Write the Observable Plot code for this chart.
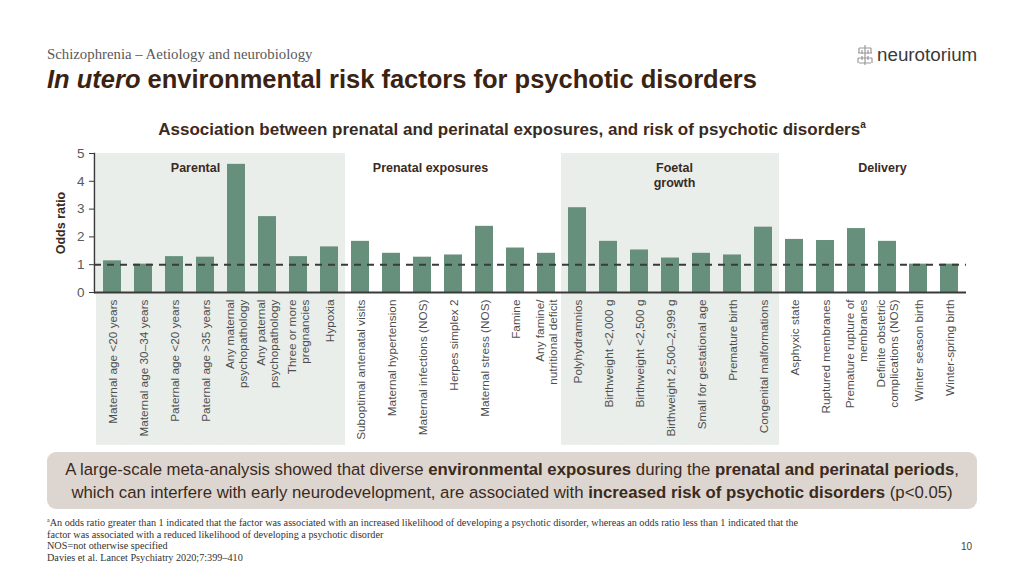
<!DOCTYPE html>
<html><head><meta charset="utf-8">
<script src="https://cdn.jsdelivr.net/npm/d3@7"></script>
<script src="https://cdn.jsdelivr.net/npm/@observablehq/plot@0.6"></script>
<style>
html,body{margin:0;padding:0;background:#fff;}
#page{position:relative;width:1024px;height:576px;overflow:hidden;font-family:"Liberation Sans",Arial,sans-serif;}
.abs{position:absolute;white-space:nowrap;}
#crumb{left:47px;top:46px;font-family:"Liberation Serif","Times New Roman",serif;font-size:14.8px;color:#595959;}
#title{left:47px;top:65px;font-size:25.5px;font-weight:bold;color:#3b2314;}
#logo{left:856px;top:44px;font-size:18.8px;color:#3a3a3a;}
#ctitle{left:0;width:1024px;text-align:center;top:119px;font-size:17px;font-weight:bold;color:#3b2a1e;}
#ctitle sup{font-size:10px;}
#chart{position:absolute;left:0;top:145px;}
#box{position:absolute;left:47px;top:452px;width:930px;height:57px;background:#ddd6d0;border-radius:9px;}
#boxtext{left:0;width:1024px;top:458px;text-align:center;font-family:"Liberation Sans",Arial,sans-serif;font-size:16.75px;line-height:23px;color:#3a2a20;}
#foot{left:47px;top:515px;font-family:"Liberation Serif","Times New Roman",serif;font-size:10.2px;line-height:11.4px;color:#333;}
#pnum{left:961px;top:541px;font-size:10px;color:#444;}
</style></head><body><div id="page">
<div id="crumb" class="abs">Schizophrenia – Aetiology and neurobiology</div>
<div id="title" class="abs"><i>In utero</i> environmental risk factors for psychotic disorders</div>
<div id="logo" class="abs"><svg width="18" height="22" viewBox="0 0 18 22" style="vertical-align:-5px;margin-right:3px"><g stroke="#9a9a9a" stroke-width="1.2" fill="none"><path d="M9 1v20M3 4h12M2 9h14M2 14h14M3 19h12M3 4v5M15 4v5M2 14v5M16 14v5M6 6v4M12 6v4M6 12v4M12 12v4"/></g></svg>neurotorium</div>
<div id="ctitle" class="abs">Association between prenatal and perinatal exposures, and risk of psychotic disorders<sup>a</sup></div>
<div id="chart"></div>
<div id="box"></div>
<div id="boxtext" class="abs">A large-scale meta-analysis showed that diverse <b>environmental exposures</b> during the <b>prenatal and perinatal periods</b>,<br>which can interfere with early neurodevelopment, are associated with <b>increased risk of psychotic disorders</b> (p&lt;0.05)</div>
<div id="foot" class="abs"><sup style="font-size:6px">a</sup>An odds ratio greater than 1 indicated that the factor was associated with an increased likelihood of developing a psychotic disorder, whereas an odds ratio less than 1 indicated that the<br>factor was associated with a reduced likelihood of developing a psychotic disorder<br>NOS=not otherwise specified<br>Davies et al. Lancet Psychiatry 2020;7:399–410</div>
<div id="pnum" class="abs">10</div>
</div>
<script>
const categories = [
  "Maternal age <20 years", "Maternal age 30–34 years", "Paternal age <20 years", "Paternal age >35 years",
  "Any maternal\npsychopathology", "Any paternal\npsychopathology", "Three or more\npregnancies", "Hypoxia",
  "Suboptimal antenatal visits", "Maternal hypertension", "Maternal infections (NOS)", "Herpes simplex 2",
  "Maternal stress (NOS)", "Famine", "Any famine/\nnutritional deficit",
  "Polyhydramnios", "Birthweight <2,000 g", "Birthweight <2,500 g", "Birthweight 2,500–2,999 g",
  "Small for gestational age", "Premature birth", "Congenital malformations",
  "Asphyxic state", "Ruptured membranes", "Premature rupture of\nmembranes",
  "Definite obstetric\ncomplications (NOS)", "Winter season birth", "Winter-spring birth"
];
const groupOf = [
  "Parental","Parental","Parental","Parental","Parental","Parental","Parental","Parental",
  "Prenatal exposures","Prenatal exposures","Prenatal exposures","Prenatal exposures","Prenatal exposures","Prenatal exposures","Prenatal exposures",
  "Foetal growth","Foetal growth","Foetal growth","Foetal growth","Foetal growth","Foetal growth","Foetal growth",
  "Delivery","Delivery","Delivery","Delivery","Delivery","Delivery"
];
const oddsRatios = [1.14, 1.02, 1.29, 1.27, 4.61, 2.73, 1.29, 1.64,
  1.84, 1.41, 1.27, 1.35, 2.38, 1.60, 1.41,
  3.05, 1.84, 1.53, 1.24, 1.41, 1.35, 2.35,
  1.91, 1.87, 2.30, 1.84, 1.02, 1.02];
const yTicks = [0, 1, 2, 3, 4, 5];
const groupLabels = ["Parental", "Prenatal exposures", "Foetal\ngrowth", "Delivery"];
const groupLabelAnchor = ["Paternal age >35 years", "Maternal infections (NOS)", "Birthweight 2,500–2,999 g", "Definite obstetric\ncomplications (NOS)"];
const shadedGroups = ["Parental", "Foetal growth"];
const referenceLine = [1];

const rows = categories.map((c, i) => ({category: c, group: groupOf[i], or: oddsRatios[i]}));
const shaded = rows.filter(d => shadedGroups.includes(d.group));
const labelRows = groupLabels.map((g, i) => ({label: g, at: groupLabelAnchor[i]}));
const labelDx = [-10, 8, 4, -5];

const W = 1024, H = 305, ML = 94, MR = 58;
const pad = 0.43;
const step = (W - ML - MR) / categories.length;
const fullInset = -(step * pad) / 2 - 0.3;

const chart = Plot.plot({
  width: W, height: H,
  marginLeft: ML, marginRight: MR, marginTop: 8, marginBottom: 158,
  style: {fontFamily: '"Liberation Sans", Arial, sans-serif', overflow: "visible", background: "transparent"},
  x: {domain: categories, paddingInner: pad, paddingOuter: pad / 2, label: null},
  y: {domain: [0, 5], label: null},
  marks: [
    Plot.barY(shaded, {x: "category", y1: -5.5, y2: 5, fill: "#e9eeeb", insetLeft: fullInset, insetRight: fullInset}),
    Plot.barY(rows, {x: "category", y: "or", fill: "#67907c"}),
    Plot.ruleY(referenceLine, {stroke: "#3a3a3a", strokeWidth: 2, strokeDasharray: "7,6"}),
    Plot.ruleY([0], {stroke: "#3a3a3a", strokeWidth: 2}),
    Plot.frame({anchor: "left", stroke: "#3a3a3a", strokeWidth: 1.5}),
    ...labelRows.map((d, i) => Plot.text([d], {x: "at", y: 4.71, text: "label", lineAnchor: "top", dx: labelDx[i], fontSize: 12.5, fontWeight: "bold", fill: "#3b2a1e", lineHeight: 1.2})),
    Plot.axisY({ticks: yTicks, tickFormat: "d", tickSize: 5, tickPadding: 5, fontSize: 13.5, color: "#595959", stroke: "#3a3a3a", label: null}),
    Plot.text(["Odds ratio"], {frameAnchor: "left", textAnchor: "middle", dx: -34, rotate: -90, fontSize: 12.5, fontWeight: "bold", fill: "#3b2a1e"}),
    Plot.axisX({tickRotate: -90, tickSize: 0, tickPadding: 7, fontSize: 11.8, color: "#4d4d4d", label: null, lineHeight: 1.1})
  ]
});
document.getElementById("chart").appendChild(chart);
</script>
</body></html>
